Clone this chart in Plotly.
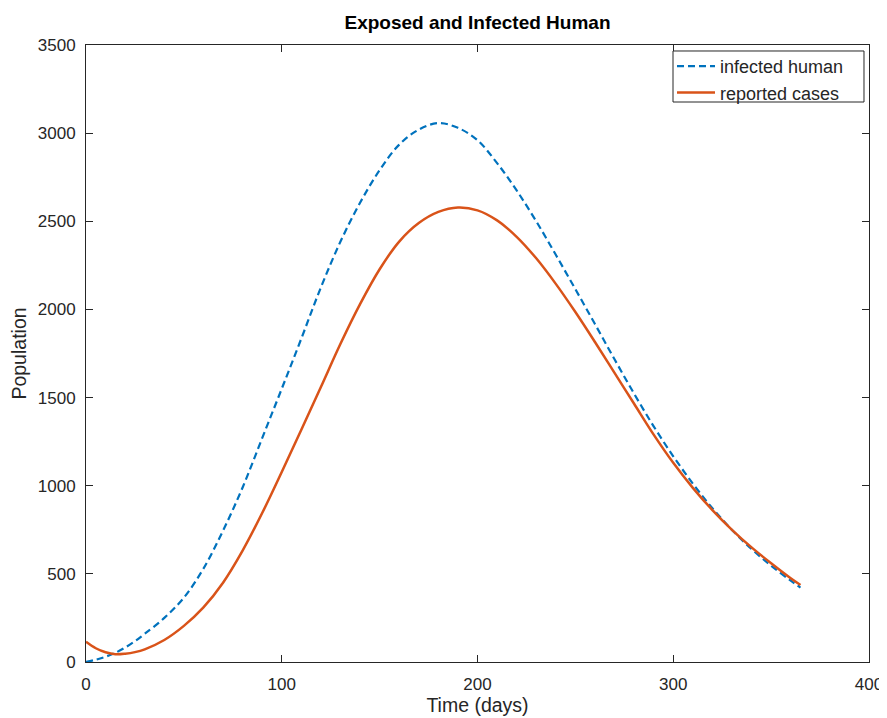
import plotly.graph_objects as go

days = [0, 5, 10, 15, 20, 25, 30, 40, 50, 60, 70, 80, 90, 100, 110, 120, 130, 140,
        150, 160, 170, 180, 190, 200, 210, 220, 230, 240, 250, 260, 270, 280, 290,
        300, 310, 320, 330, 340, 350, 360, 365]

infected_human = [0, 13, 30, 52, 82, 118, 160, 250, 365, 530, 745, 990, 1270, 1550,
                  1835, 2125, 2385, 2605, 2790, 2935, 3020, 3057, 3030, 2960, 2830,
                  2675, 2500, 2310, 2115, 1917, 1717, 1522, 1337, 1167, 1012, 872,
                  749, 641, 546, 461, 422]

reported_cases = [115, 78, 55, 44, 47, 56, 72, 125, 205, 310, 450, 632, 845, 1078,
                  1318, 1560, 1805, 2030, 2228, 2385, 2490, 2553, 2578, 2562, 2505,
                  2412, 2290, 2145, 1985, 1815, 1640, 1465, 1290, 1130, 988, 862,
                  750, 650, 560, 475, 437]

x_ticks = [0, 100, 200, 300, 400]
y_ticks = [0, 500, 1000, 1500, 2000, 2500, 3000, 3500]

FONT = "Liberation Sans, Arial, Helvetica, sans-serif"
AX = "#262626"
PAD = "\u00a0" * 4

fig = go.Figure()
fig.add_trace(go.Scatter(
    x=days, y=infected_human, mode="lines", name="infected human" + PAD,
    line=dict(color="#0072BD", width=2.2, dash="7px,4px", shape="spline", smoothing=1.0),
))
fig.add_trace(go.Scatter(
    x=days, y=reported_cases, mode="lines", name="reported cases" + PAD,
    line=dict(color="#D95319", width=2.5, shape="spline", smoothing=1.0),
))

axis_common = dict(
    showgrid=False, zeroline=False, showline=True, linecolor=AX, linewidth=1,
    mirror="ticks", ticks="inside", ticklen=7, tickwidth=1, tickcolor=AX,
    tickfont=dict(family=FONT, size=17, color=AX), automargin=False,
)

# legend frame (MATLAB style box)
fig.add_shape(type="rect", xref="paper", yref="paper",
              x0=0.7497, x1=0.9936, y0=0.9076, y1=0.9903,
              line=dict(color=AX, width=1), fillcolor="white", layer="above")

# page body has an 8px margin, so the figure is 8px smaller and margins shifted
fig.update_layout(
    width=879, height=710,
    margin=dict(l=78, r=18, t=37, b=56),
    paper_bgcolor="white", plot_bgcolor="white",
    font=dict(family=FONT, size=17, color=AX),
    title=dict(text="<b>Exposed and Infected Human</b>", xref="paper", x=0.5,
               xanchor="center", yref="container", y=0.9894, yanchor="top",
               font=dict(family=FONT, size=19, color="black"), automargin=False),
    xaxis=dict(range=[0, 400], tickvals=x_ticks, ticktext=[str(v) for v in x_ticks],
               ticklabelstandoff=7,
               title=dict(text="Time (days)", font=dict(family=FONT, size=19.5, color=AX), standoff=2),
               **axis_common),
    yaxis=dict(range=[0, 3500], tickvals=y_ticks, ticktext=[str(v) for v in y_ticks],
               ticklabelstandoff=6,
               title=dict(text="Population", font=dict(family=FONT, size=19.5, color=AX), standoff=5),
               **axis_common),
    legend=dict(x=0.7484, xanchor="left", y=0.9951, yanchor="top",
                bgcolor="rgba(0,0,0,0)", borderwidth=0,
                font=dict(family=FONT, size=18, color=AX), itemwidth=38,
                tracegroupgap=0),
    showlegend=True,
)

fig.write_html("out.html")
